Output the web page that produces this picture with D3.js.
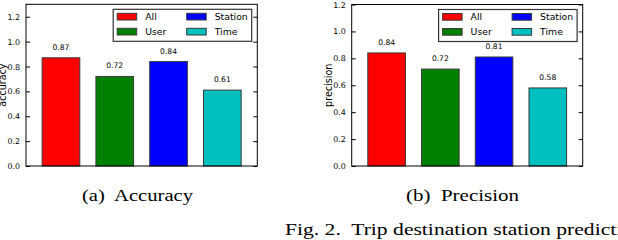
<!DOCTYPE html>
<html>
<head>
<meta charset="utf-8">
<script src="https://cdn.jsdelivr.net/npm/d3@7"></script>
<style>
  html, body { margin: 0; padding: 0; background: #fff; }
  svg { display: block; }
  text { white-space: pre; }
</style>
</head>
<body>
<script>
// ---- data ----
const categories = ["All", "User", "Station", "Time"];
const accuracyValues = [0.87, 0.72, 0.84, 0.61];
const precisionValues = [0.84, 0.72, 0.81, 0.58];
const accuracyTicks = [0.0, 0.2, 0.4, 0.6, 0.8, 1.0, 1.2];
const precisionTicks = [0.0, 0.2, 0.4, 0.6, 0.8, 1.0, 1.2];
const barColors = ["#ff0000", "#008000", "#0000ff", "#00bfbf"];
const subCaptions = ["(a)  Accuracy", "(b)  Precision"];
const figCaption = "Fig. 2.  Trip destination station prediction";

const W = 618, H = 240;
const svg = d3.select("body").append("svg").attr("width", W).attr("height", H);
const sans = "DejaVu Sans, sans-serif";
const serif = "Liberation Serif, Times New Roman, serif";

function panel(opts) {
  const { left, right, top, bottom, yMax, values, ticks, ylabel, ylabelX } = opts;
  const g = svg.append("g");
  const x = d3.scaleLinear().domain([-0.65, categories.length - 1 + 0.65]).range([left, right]);
  const y = d3.scaleLinear().domain([0, yMax]).range([bottom, top]);
  const bw = 0.7;

  // bars
  g.selectAll("rect.bar").data(values).join("rect")
    .attr("class", "bar")
    .attr("x", (d, i) => x(i - bw / 2))
    .attr("width", (d, i) => x(i + bw / 2) - x(i - bw / 2))
    .attr("y", d => y(d))
    .attr("height", d => y(0) - y(d))
    .attr("fill", (d, i) => barColors[i])
    .attr("stroke", "#3a3a3a")
    .attr("stroke-width", 1);

  // value labels
  g.selectAll("text.val").data(values).join("text")
    .attr("class", "val")
    .attr("x", (d, i) => x(i))
    .attr("y", d => y(d) - 8)
    .attr("text-anchor", "middle")
    .attr("font-family", sans)
    .attr("font-size", 7.6)
    .attr("fill", "#000")
    .text(d => d.toFixed(2));

  // axes (left + right with inward ticks)
  const axL = d3.axisLeft(y).tickValues(ticks).tickFormat(d3.format(".1f")).tickSizeInner(-4).tickSizeOuter(0).tickPadding(6);
  const gl = g.append("g").attr("transform", `translate(${left},0)`).call(axL);
  gl.select(".domain").remove();
  gl.selectAll("line").attr("stroke", "#000");
  gl.selectAll("text").attr("font-family", sans).attr("font-size", 7.9).attr("fill", "#000").attr("dx", 0);

  const axR = d3.axisRight(y).tickValues(ticks).tickFormat("").tickSizeInner(-4).tickSizeOuter(0);
  const gr = g.append("g").attr("transform", `translate(${right},0)`).call(axR);
  gr.select(".domain").remove();
  gr.selectAll("line").attr("stroke", "#000");

  // frame
  g.append("rect")
    .attr("x", left).attr("y", top)
    .attr("width", right - left).attr("height", bottom - top)
    .attr("fill", "none").attr("stroke", "#000").attr("stroke-width", 1);

  // y label
  g.append("text")
    .attr("transform", `translate(${ylabelX},${(top + bottom) / 2}) rotate(-90)`)
    .attr("text-anchor", "middle")
    .attr("font-family", sans)
    .attr("font-size", 9.6)
    .attr("fill", "#000")
    .text(ylabel);

  // legend
  const lx0 = right - 5.6 - 138.5, ly0 = top + 5;
  g.append("rect")
    .attr("x", lx0).attr("y", ly0).attr("width", 138.5).attr("height", 32)
    .attr("fill", "#fff").attr("stroke", "#333").attr("stroke-width", 1.2);
  const order = [[0, 0], [1, 0], [2, 1], [3, 1]]; // [category, column]
  const colX = [4, 73.5];
  categories.forEach((c, i) => {
    const col = i < 2 ? 0 : 1;
    const row = (c === "All" || c === "Station") ? 0 : 1;
    const idx = categories.indexOf(c);
    const sx = lx0 + colX[col];
    const sy = ly0 + 4 + row * 15;
    g.append("rect")
      .attr("x", sx).attr("y", sy).attr("width", 19.5).attr("height", 6.7)
      .attr("fill", barColors[idx]).attr("stroke", "#3a3a3a").attr("stroke-width", 1);
    g.append("text")
      .attr("x", sx + 28).attr("y", sy + 6.6)
      .attr("font-family", sans).attr("font-size", 9.3).attr("fill", "#000")
      .text(c);
  });
  return g;
}

// reorder for legend layout: column 0 = All, User ; column 1 = Station, Time
function legendFix() {}

panel({ left: 26, right: 257.3, top: 4.3, bottom: 166, yMax: 1.3,
        values: accuracyValues, ticks: accuracyTicks, ylabel: "accuracy", ylabelX: 6.3 });
panel({ left: 351.7, right: 582.7, top: 4.5, bottom: 166, yMax: 1.2,
        values: precisionValues, ticks: precisionTicks, ylabel: "precision", ylabelX: 332 });

// sub captions
svg.append("text")
  .attr("x", 82).attr("y", 200.7)
  .attr("font-family", serif).attr("font-size", 16)
  .attr("textLength", 111).attr("lengthAdjust", "spacingAndGlyphs")
  .attr("fill", "#000")
  .text(subCaptions[0]);
svg.append("text")
  .attr("x", 406).attr("y", 200.7)
  .attr("font-family", serif).attr("font-size", 16)
  .attr("textLength", 113).attr("lengthAdjust", "spacingAndGlyphs")
  .attr("fill", "#000")
  .text(subCaptions[1]);

// figure caption (cut at right edge)
svg.append("text")
  .attr("transform", "translate(285,235) scale(1.31,1)")
  .attr("font-family", serif).attr("font-size", 16.5)
  .attr("fill", "#000")
  .text(figCaption);
</script>
</body>
</html>
